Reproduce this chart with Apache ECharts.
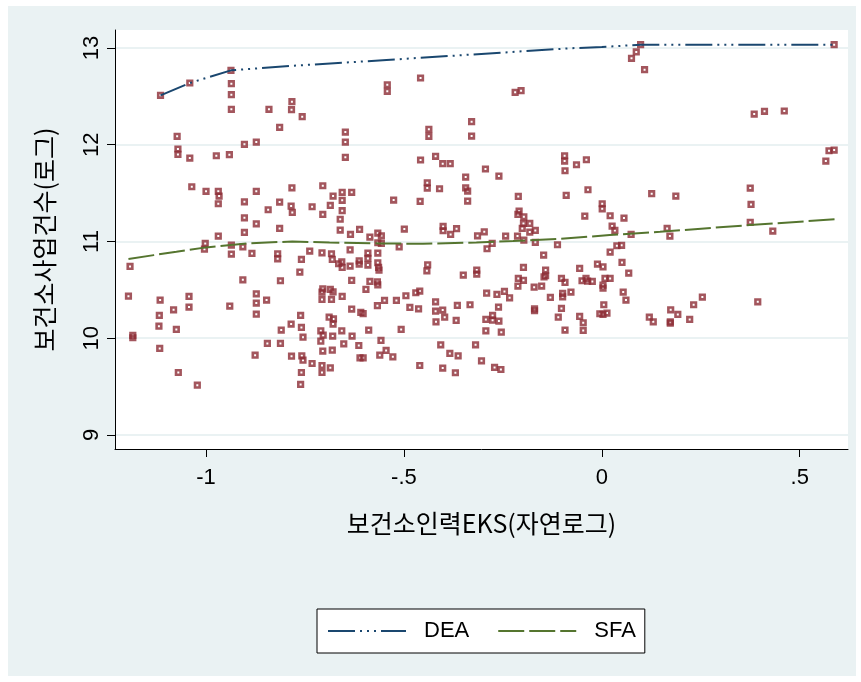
<!DOCTYPE html>
<html>
<head>
    <meta charset="utf-8">
    <title>EKS vs 사업건수</title>
    <script src="https://cdn.jsdelivr.net/npm/echarts@6.0.0/dist/echarts.min.js"></script>
    <style>
        html, body { margin: 0; padding: 0; background: #fff; }
        #main { width: 861px; height: 682px; }
    </style>
</head>
<body>
<div id="main"></div>
<script>
    // 관측치: [보건소인력EKS(자연로그), 보건소사업건수(로그)]
    var obs = [
        [-1.115, 12.511], [-1.041, 12.638], [-0.937, 12.769], [-0.936, 12.631], [-0.936, 12.517],
        [-0.936, 12.366], [-0.841, 12.366], [-0.783, 12.445], [-0.784, 12.362], [-0.814, 12.18],
        [-1.073, 12.087], [-1.071, 11.956], [-1.071, 11.90], [-1.041, 11.862], [-0.974, 11.886],
        [-0.941, 11.897], [-0.903, 12.004], [-0.873, 12.028], [-1.036, 11.566], [-1.0, 11.518],
        [-0.969, 11.518], [-0.967, 11.469], [-0.969, 11.39], [-0.903, 11.41], [-0.903, 11.245],
        [-0.873, 11.518], [-0.843, 11.328], [-0.814, 11.407], [-0.783, 11.555], [-0.785, 11.366],
        [-0.782, 11.30],
        [-0.757, 12.29], [-0.648, 12.131], [-0.648, 12.028], [-0.648, 11.87], [-0.542, 12.62],
        [-0.542, 12.552], [-0.458, 12.69], [-0.437, 12.159], [-0.437, 12.087], [-0.329, 12.238],
        [-0.329, 12.09], [-0.458, 11.842], [-0.42, 11.88], [-0.402, 11.804], [-0.383, 11.804],
        [-0.344, 11.666], [-0.344, 11.555], [-0.339, 11.521], [-0.339, 11.418], [-0.705, 11.576],
        [-0.679, 11.469], [-0.656, 11.508], [-0.632, 11.508], [-0.656, 11.425], [-0.656, 11.318],
        [-0.661, 11.23], [-0.732, 11.359], [-0.686, 11.373], [-0.705, 11.28], [-0.526, 11.428],
        [-0.459, 11.415], [-0.441, 11.607], [-0.441, 11.552], [-0.41, 11.545],
        [0.098, 13.034], [0.087, 12.959], [0.075, 12.893], [0.108, 12.776], [-0.219, 12.542],
        [-0.204, 12.559], [-0.294, 11.749], [-0.26, 11.676], [-0.094, 11.886], [-0.094, 11.831],
        [-0.064, 11.793], [-0.039, 11.845], [-0.093, 11.731], [-0.211, 11.466], [-0.09, 11.477],
        [-0.035, 11.535], [0.126, 11.494], [0.001, 11.39], [0.001, 11.338], [0.021, 11.266],
        [0.056, 11.242], [-0.043, 11.263], [-0.209, 11.314], [-0.212, 11.28], [-0.197, 11.255],
        [0.587, 13.034], [0.385, 12.317], [0.411, 12.345], [0.461, 12.349], [0.574, 11.938],
        [0.587, 11.945], [0.566, 11.831], [0.187, 11.469], [0.375, 11.552], [0.377, 11.383],
        [-0.873, 11.183], [-0.814, 11.135], [-0.969, 11.056], [-0.903, 11.094], [-1.002, 10.98],
        [-1.004, 10.921], [-0.936, 10.963], [-0.936, 10.87], [-0.907, 10.945], [-0.884, 10.877],
        [-0.819, 10.873], [-0.819, 10.821], [-1.192, 10.742], [-0.907, 10.604], [-0.812, 10.594],
        [-1.196, 10.435], [-1.116, 10.394], [-1.043, 10.432], [-1.043, 10.322], [-1.082, 10.294],
        [-1.118, 10.236], [-1.119, 10.125], [-1.075, 10.091], [-0.94, 10.332], [-0.873, 10.459],
        [-0.873, 10.363], [-0.847, 10.394], [-0.873, 10.249], [-0.785, 10.146], [-0.81, 10.084],
        [-1.185, 10.03], [-1.185, 10.005], [-1.117, 9.895], [-0.845, 9.946], [-0.812, 9.946],
        [-0.876, 9.825], [-0.784, 9.815], [-1.07, 9.646], [-1.022, 9.515],
        [-0.661, 11.118], [-0.635, 11.073], [-0.612, 11.125], [-0.586, 11.046], [-0.566, 11.087],
        [-0.557, 11.059], [-0.557, 10.98], [-0.566, 10.987], [-0.499, 11.128], [-0.401, 11.156],
        [-0.401, 11.111], [-0.367, 11.132], [-0.382, 11.073], [-0.314, 11.059], [-0.512, 10.945],
        [-0.738, 10.901], [-0.707, 10.883], [-0.759, 10.815], [-0.683, 10.873], [-0.681, 10.815],
        [-0.665, 10.77], [-0.657, 10.79], [-0.656, 10.732], [-0.636, 10.914], [-0.636, 10.746],
        [-0.613, 10.8], [-0.613, 10.766], [-0.591, 10.88], [-0.591, 10.825], [-0.591, 10.756],
        [-0.566, 10.88], [-0.566, 10.78], [-0.564, 10.732], [-0.563, 10.704], [-0.44, 10.759],
        [-0.442, 10.697], [-0.763, 10.684], [-0.632, 10.598], [-0.586, 10.587], [-0.567, 10.583],
        [-0.566, 10.552], [-0.596, 10.505], [-0.35, 10.653], [-0.316, 10.704], [-0.316, 10.663],
        [-0.705, 10.511], [-0.707, 10.477], [-0.686, 10.505], [-0.679, 10.48], [-0.707, 10.401],
        [-0.683, 10.401], [-0.656, 10.432], [-0.632, 10.301], [-0.609, 10.267], [-0.603, 10.255],
        [-0.567, 10.336], [-0.549, 10.391], [-0.519, 10.391], [-0.495, 10.439], [-0.47, 10.47],
        [-0.46, 10.487], [-0.485, 10.318], [-0.463, 10.304], [-0.42, 10.376], [-0.42, 10.28],
        [-0.402, 10.291], [-0.397, 10.218], [-0.419, 10.17], [-0.368, 10.184], [-0.365, 10.339],
        [-0.333, 10.346], [-0.761, 10.236], [-0.759, 10.112], [-0.689, 10.218], [-0.678, 10.2],
        [-0.679, 10.146], [-0.657, 10.077], [-0.71, 10.077], [-0.704, 10.032], [-0.71, 9.97],
        [-0.68, 10.022], [-0.631, 10.022], [-0.589, 10.084], [-0.507, 10.091], [-0.755, 10.011],
        [-0.652, 9.942], [-0.614, 9.925], [-0.558, 9.977], [-0.545, 9.874], [-0.561, 9.825],
        [-0.528, 9.808], [-0.705, 9.867], [-0.681, 9.877], [-0.758, 9.818], [-0.755, 9.773],
        [-0.611, 9.797], [-0.603, 9.797], [-0.732, 9.739], [-0.707, 9.718], [-0.707, 9.646],
        [-0.686, 9.694], [-0.759, 9.646], [-0.761, 9.522], [-0.46, 9.718], [-0.407, 9.932],
        [-0.384, 9.843], [-0.363, 9.818], [-0.402, 9.691], [-0.37, 9.643], [-0.319, 9.932],
        [-0.198, 11.187], [-0.182, 11.187], [-0.201, 11.135], [-0.182, 11.097], [-0.168, 11.114],
        [-0.213, 11.056], [-0.197, 11.014], [0.026, 11.159], [0.033, 11.114], [0.074, 11.073],
        [-0.297, 11.1], [-0.243, 11.056], [-0.277, 10.98], [-0.29, 10.925], [-0.168, 10.991],
        [-0.112, 10.966], [-0.147, 10.859], [0.038, 10.956], [0.05, 10.96], [0.021, 10.891],
        [0.051, 10.784], [0.068, 10.673], [-0.198, 10.732], [-0.211, 10.618], [-0.212, 10.539],
        [-0.198, 10.598], [-0.142, 10.704], [-0.142, 10.646], [-0.146, 10.635], [-0.171, 10.528],
        [-0.152, 10.539], [-0.056, 10.722], [-0.011, 10.766], [0.003, 10.738], [-0.102, 10.618],
        [-0.093, 10.577], [-0.05, 10.594], [-0.04, 10.618], [-0.036, 10.59], [-0.024, 10.587],
        [0.008, 10.618], [0.021, 10.618], [0.003, 10.549], [0.003, 10.518], [0.054, 10.477],
        [0.061, 10.394], [-0.099, 10.463], [-0.099, 10.428], [-0.078, 10.477], [-0.13, 10.422],
        [-0.291, 10.466], [-0.265, 10.453], [-0.246, 10.484], [-0.233, 10.418], [-0.261, 10.322],
        [-0.17, 10.304], [-0.17, 10.284], [-0.102, 10.308], [-0.11, 10.218], [-0.056, 10.225],
        [-0.047, 10.16], [-0.047, 10.081], [-0.093, 10.084], [0.005, 10.346], [-0.005, 10.253],
        [0.003, 10.246], [0.013, 10.26], [0.12, 10.218], [0.13, 10.17], [-0.293, 10.194],
        [-0.276, 10.236], [-0.276, 10.187], [-0.26, 10.177], [-0.293, 10.077], [-0.254, 10.063],
        [-0.304, 9.766], [-0.271, 9.698], [-0.255, 9.677],
        [0.165, 11.135], [0.172, 11.056], [0.375, 11.198], [0.432, 11.108], [0.174, 10.294],
        [0.192, 10.246], [0.173, 10.156], [0.173, 10.17], [0.222, 10.194], [0.232, 10.346],
        [0.254, 10.425], [0.394, 10.376]
    ];

    // DEA 프런티어
    var deaLine = [
        [-1.115, 12.511], [-1.041, 12.638], [-0.937, 12.769], [-0.789, 12.814], [-0.544, 12.876],
        [-0.334, 12.931], [-0.081, 12.997], [0.0, 13.01], [0.098, 13.034], [0.587, 13.034]
    ];

    // SFA 프런티어
    var sfaLine = [
        [-1.196, 10.818], [-1.132, 10.859], [-1.075, 10.893], [-1.0, 10.939], [-0.898, 10.98],
        [-0.782, 11.0], [-0.688, 10.99], [-0.561, 10.98], [-0.452, 10.976], [-0.317, 10.99],
        [-0.224, 11.004], [-0.115, 11.025], [0.02, 11.066], [0.147, 11.1], [0.374, 11.17],
        [0.589, 11.229]
    ];

    var xTicks = [-1, -0.5, 0, 0.5];
    var xTickLabels = ['-1', '-.5', '0', '.5'];
    var yTicks = [9, 10, 11, 12, 13];

    var latin = "'Liberation Sans', Arial, sans-serif";
    var kor = "'Noto Sans CJK KR', sans-serif";

    var myChart = echarts.init(document.getElementById('main'));
    var option = {
        backgroundColor: '#fff',
        animation: false,
        graphic: [{
            type: 'rect', z: -100, silent: true,
            shape: {x: 8, y: 6, width: 848, height: 670},
            style: {fill: '#EAF2F3'}
        }],
        grid: {
            left: 115, right: 13, top: 30, bottom: 233,
            show: true, backgroundColor: '#fff', borderWidth: 0
        },
        legend: {
            data: ['DEA', 'SFA'],
            left: 317, top: 609,
            padding: [11, 9, 11, 10],
            itemWidth: 78, itemHeight: 14, itemGap: 28,
            itemStyle: {opacity: 0},
            backgroundColor: '#fff', borderColor: '#000', borderWidth: 1, borderRadius: 0,
            textStyle: {fontSize: 22, color: '#000', fontFamily: latin, padding: [0, 0, 0, 13]}
        },
        xAxis: {
            type: 'value', min: -1.23, max: 0.622,
            axisLine: {show: true, onZero: false, lineStyle: {color: '#000', width: 1}},
            axisTick: {show: true, length: 8, customValues: xTicks, lineStyle: {color: '#000'}},
            axisLabel: {
                customValues: xTicks, fontSize: 22, color: '#000', fontFamily: latin, margin: 18,
                formatter: function (v) {
                    for (var i = 0; i < xTicks.length; i++) {
                        if (Math.abs(xTicks[i] - v) < 1e-6) return xTickLabels[i];
                    }
                    return '';
                }
            },
            splitLine: {show: false},
            name: '보건소인력EKS(자연로그)', nameLocation: 'middle', nameGap: 62,
            nameTextStyle: {fontSize: 25, color: '#000', fontFamily: kor}
        },
        yAxis: {
            type: 'value', min: 8.855, max: 13.186,
            axisLine: {show: true, onZero: false, lineStyle: {color: '#000', width: 1}},
            axisTick: {show: true, length: 8, customValues: yTicks, lineStyle: {color: '#000'}},
            axisLabel: {customValues: yTicks, rotate: 90, fontSize: 22, color: '#000', fontFamily: latin, margin: 12},
            splitLine: {show: true, lineStyle: {color: '#EAF2F3', width: 2}},
            name: '보건소사업건수(로그)', nameLocation: 'middle', nameGap: 58, nameRotate: 90,
            nameTextStyle: {fontSize: 25, color: '#000', fontFamily: kor}
        },
        series: [{
            name: 'obs',
            type: 'scatter',
            data: obs,
            symbol: 'rect',
            symbolSize: 4.6,
            itemStyle: {color: 'rgba(255,255,255,0)', borderColor: '#8C2C35', borderWidth: 2.6}
        }, {
            name: 'DEA',
            type: 'line',
            data: deaLine,
            symbol: 'none',
            lineStyle: {color: '#1A476F', width: 2, type: [27, 5, 2, 5, 2, 5, 2, 5]},
            itemStyle: {color: '#1A476F'}
        }, {
            name: 'SFA',
            type: 'line',
            data: sfaLine,
            symbol: 'none',
            lineStyle: {color: '#55752F', width: 2, type: [26, 5]},
            itemStyle: {color: '#55752F'}
        }]
    };
    myChart.setOption(option);
</script>
</body>
</html>
